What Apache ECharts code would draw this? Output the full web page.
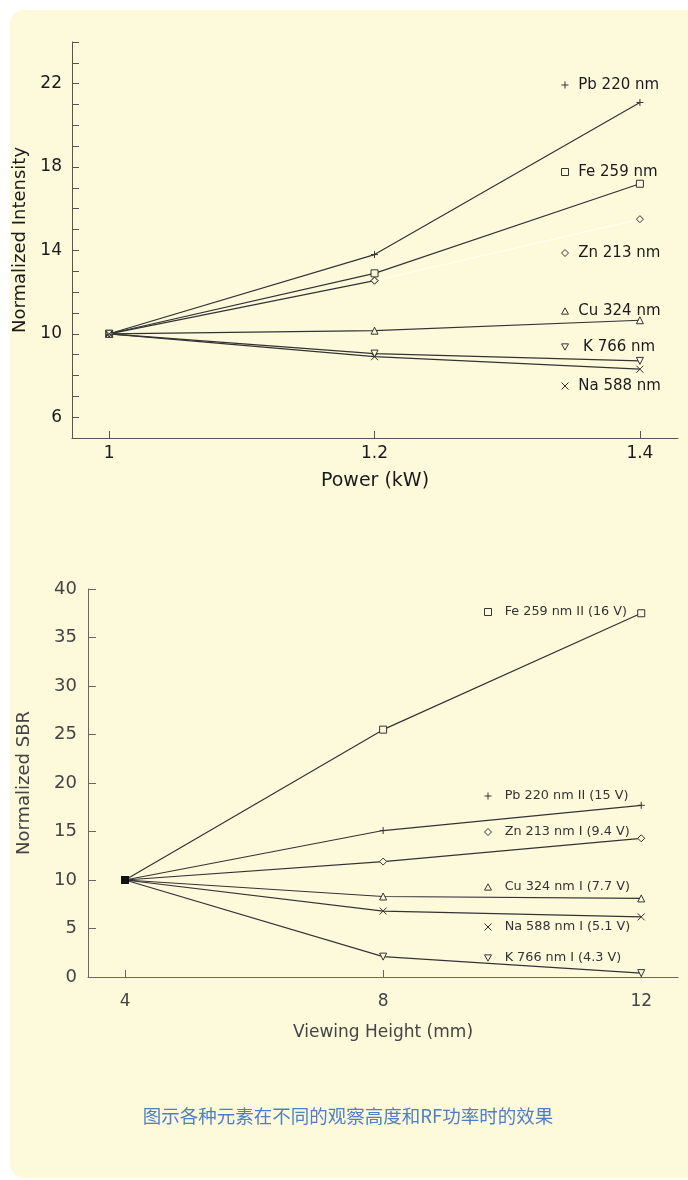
<!DOCTYPE html>
<html>
<head>
<meta charset="utf-8">
<script src="https://cdn.jsdelivr.net/npm/echarts@6/dist/echarts.min.js"></script>
<style>
  html, body { margin: 0; padding: 0; background: #ffffff; }
  .panel {
    position: absolute; left: 10px; top: 10px; width: 678px; height: 1168px;
    background: #fdfadc; border-radius: 14px 0 0 14px;
  }
  #chart { position: absolute; left: 0; top: 0; width: 688px; height: 1180px; }
</style>
</head>
<body>
<div class="panel"></div>
<div id="chart"></div>
<script>
// top panel: normalized intensity vs RF power
const powerKW = [1, 1.2, 1.4];
const intensityLabels = [6, 10, 14, 18, 22];
const pbPower = [10, 13.8, 21.1];
const fePower = [10, 12.9, 17.2];
const znPower = [10, 12.55, 15.5];
const cuPower = [10, 10.15, 10.65];
const kPower = [10, 9.05, 8.7];
const naPower = [10, 8.9, 8.3];

// bottom panel: normalized SBR vs viewing height
const heightMM = [4, 8, 12];
const feHeight = [10, 25.5, 37.5];
const pbHeight = [10, 15.1, 17.7];
const znHeight = [10, 11.9, 14.3];
const cuHeight = [10, 8.3, 8.1];
const naHeight = [10, 6.8, 6.2];
const kHeight = [10, 2.1, 0.4];

const caption = '图示各种元素在不同的观察高度和RF功率时的效果';

const ink = '#333333';
const bg = '#fdfadc';
const font = 'DejaVu Sans';

const sym = {
  plus: 'path://M5,0L5,10M0,5L10,5',
  rect: 'path://M0,0L10,0L10,10L0,10Z',
  diamond: 'path://M5,0L10,5L5,10L0,5Z',
  tri: 'path://M5,0L10,9L0,9Z',
  itri: 'path://M0,0L10,0L5,9Z',
  cross: 'path://M0,0L10,10M10,0L0,10'
};

const line = (name, xs, ys, symbol, axis, extra) => ({
  name,
  type: 'line',
  xAxisIndex: axis,
  yAxisIndex: axis,
  data: xs.map((x, i) => [x, ys[i]]),
  symbol,
  symbolSize: 7,
  showAllSymbol: true,
  lineStyle: { color: ink, width: 1.2 },
  itemStyle: { color: bg, borderColor: ink, borderWidth: 1 },
  emphasis: { disabled: true },
  ...extra
});

const legendAt = (name, icon, left, cy, size, pad, color) => ({
  data: [{ name, icon }],
  left,
  top: cy - 8,
  padding: 0,
  itemWidth: 7,
  itemHeight: 7,
  selectedMode: false,
  formatter: pad + '{name}',
  itemStyle: { color: bg, borderColor: ink, borderWidth: 1 },
  textStyle: { fontFamily: font, fontSize: size, lineHeight: 16, color }
});

const chart = echarts.init(document.getElementById('chart'));

const option = {
  animation: false,
  backgroundColor: 'transparent',
  grid: [
    { left: 72, right: 10, top: 42, height: 396 },
    { left: 88, right: 10, top: 589, height: 388 }
  ],
  xAxis: [
    {
      type: 'value', gridIndex: 0, min: 0.972, max: 1.4287,
      axisLine: { lineStyle: { color: '#555', width: 1 } },
      axisTick: { inside: true, length: 7, customValues: powerKW, lineStyle: { color: '#555' } },
      axisLabel: { customValues: powerKW, margin: 7, fontFamily: font, fontSize: 17, color: '#1a1a1a' },
      splitLine: { show: false },
      name: 'Power (kW)', nameLocation: 'middle', nameGap: 34,
      nameTextStyle: { fontFamily: font, fontSize: 19, color: '#1a1a1a' }
    },
    {
      type: 'value', gridIndex: 1, min: 3.426, max: 12.57,
      axisLine: { lineStyle: { color: '#666', width: 1 } },
      axisTick: { inside: true, length: 7, customValues: heightMM, lineStyle: { color: '#666' } },
      axisLabel: { customValues: heightMM, margin: 16, fontFamily: font, fontSize: 17, color: '#444' },
      splitLine: { show: false },
      name: 'Viewing Height (mm)', nameLocation: 'middle', nameGap: 47,
      nameTextStyle: { fontFamily: font, fontSize: 17, color: '#444' }
    }
  ],
  yAxis: [
    {
      type: 'value', gridIndex: 0, min: 5, max: 24, interval: 1,
      axisLine: { show: true, lineStyle: { color: '#555', width: 1 } },
      axisTick: { show: true, inside: true, length: 7, lineStyle: { color: '#555' } },
      axisLabel: { customValues: intensityLabels, margin: 10, fontFamily: font, fontSize: 17, color: '#1a1a1a' },
      splitLine: { show: false },
      name: 'Normalized Intensity', nameLocation: 'middle', nameGap: 37,
      nameTextStyle: { fontFamily: font, fontSize: 18, color: '#1a1a1a' }
    },
    {
      type: 'value', gridIndex: 1, min: 0, max: 40, interval: 5,
      axisLine: { show: true, lineStyle: { color: '#666', width: 1 } },
      axisTick: { show: true, inside: true, length: 8, lineStyle: { color: '#666' } },
      axisLabel: { margin: 11, fontFamily: font, fontSize: 18, color: '#444' },
      splitLine: { show: false },
      name: 'Normalized SBR', nameLocation: 'middle', nameGap: 55,
      nameTextStyle: { fontFamily: font, fontSize: 18, color: '#444' }
    }
  ],
  legend: [
    legendAt('Pb 220 nm', sym.plus, 561, 85, 15, ' ', '#1a1a1a'),
    legendAt('Fe 259 nm', sym.rect, 561, 172, 15, ' ', '#1a1a1a'),
    legendAt('Zn 213 nm', sym.diamond, 561, 253, 15, ' ', '#1a1a1a'),
    legendAt('Cu 324 nm', sym.tri, 561, 311, 15, ' ', '#1a1a1a'),
    legendAt('K 766 nm', sym.itri, 561, 347, 15, '  ', '#1a1a1a'),
    legendAt('Na 588 nm', sym.cross, 561, 386, 15, ' ', '#1a1a1a'),
    legendAt('Fe 259 nm II (16 V)', sym.rect, 484, 612, 12.8, '  ', '#333'),
    legendAt('Pb 220 nm II (15 V)', sym.plus, 484, 796, 12.8, '  ', '#333'),
    legendAt('Zn 213 nm I (9.4 V)', sym.diamond, 484, 832, 12.8, '  ', '#333'),
    legendAt('Cu 324 nm I (7.7 V)', sym.tri, 484, 887, 12.8, '  ', '#333'),
    legendAt('Na 588 nm I (5.1 V)', sym.cross, 484, 927, 12.8, '  ', '#333'),
    legendAt('K 766 nm I (4.3 V)', sym.itri, 484, 958, 12.8, '  ', '#333')
  ],
  series: [
    line('Pb 220 nm', powerKW, pbPower, sym.plus, 0),
    line('Fe 259 nm', powerKW, fePower, sym.rect, 0),
    line('Zn 213 nm', powerKW.slice(0, 2), znPower.slice(0, 2), sym.diamond, 0),
    // the Zn segment 1.2 -> 1.4 is drawn very faint in the original
    line('Zn 213 nm', powerKW.slice(1), znPower.slice(1), sym.diamond, 0,
      { lineStyle: { color: '#fffff4', width: 1 } }),
    line('Cu 324 nm', powerKW, cuPower, sym.tri, 0),
    line('K 766 nm', powerKW, kPower, sym.itri, 0),
    line('Na 588 nm', powerKW, naPower, sym.cross, 0),

    line('Pb 220 nm II (15 V)', heightMM, pbHeight, sym.plus, 1),
    line('Zn 213 nm I (9.4 V)', heightMM, znHeight, sym.diamond, 1),
    line('Cu 324 nm I (7.7 V)', heightMM, cuHeight, sym.tri, 1),
    line('Na 588 nm I (5.1 V)', heightMM, naHeight, sym.cross, 1),
    line('K 766 nm I (4.3 V)', heightMM, kHeight, sym.itri, 1),
    line('Fe 259 nm II (16 V)', heightMM, feHeight, sym.rect, 1, {
      data: heightMM.map((x, i) => i === 0
        ? { value: [x, feHeight[i]], itemStyle: { color: '#111', borderColor: '#111' } }
        : [x, feHeight[i]])
    })
  ],
  graphic: [
    {
      type: 'text', x: 348, y: 1116,
      style: {
        text: caption, align: 'center', verticalAlign: 'middle',
        fontFamily: 'Noto Sans CJK SC', fontSize: 18.5, fill: '#4f7fc2'
      }
    }
  ]
};

chart.setOption(option);
window.addEventListener('resize', () => chart.resize());
</script>
</body>
</html>
